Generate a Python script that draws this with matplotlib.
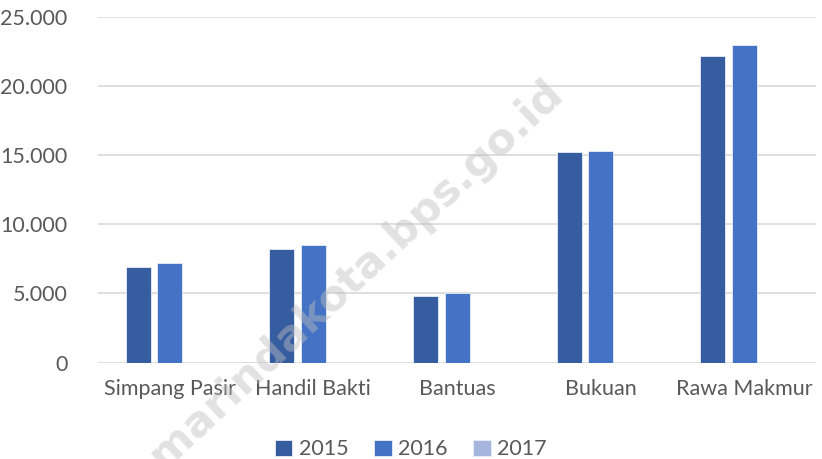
import matplotlib
matplotlib.use("Agg")
import matplotlib.pyplot as plt
import numpy as np

categories = ["Simpang Pasir", "Handil Bakti", "Bantuas", "Bukuan", "Rawa Makmur"]
years = ["2015", "2016", "2017"]
v2015 = [6950, 8230, 4850, 15270, 22150]
v2016 = [7170, 8490, 5070, 15320, 22990]
v2017 = [0, 0, 0, 0, 0]
yticks = [0, 5000, 10000, 15000, 20000, 25000]
ytick_labels = ["0", "5.000", "10.000", "15.000", "20.000", "25.000"]
colors = ["#375DA1", "#4472C4", "#A5B5DD"]

plt.rcParams['font.family'] = ['Lato', 'DejaVu Sans']
fig = plt.figure(figsize=(8.22, 4.59), dpi=100)
ax = fig.add_axes([0.119, 0.210, 0.874, 0.753])

x = np.arange(len(categories))
w = 0.174
step = 0.22
for i, (vals, c, lab) in enumerate(zip([v2015, v2016, v2017], colors, years)):
    ax.bar(x + (i - 1) * step, vals, width=w, color=c, label=lab,
           edgecolor="#E8EEF8", linewidth=0.6, zorder=3)

ax.set_xlim(-0.5, len(categories) - 0.5)
ax.set_ylim(0, 25000)
ax.set_yticks(yticks)
ax.set_yticklabels(ytick_labels)
ax.set_xticks(x)
ax.set_xticklabels(categories)
ax.yaxis.grid(True, color="#D9D9D9", linewidth=1.2, zorder=0)
ax.set_axisbelow(True)
for s in ax.spines.values():
    s.set_visible(False)
ax.tick_params(axis="both", length=0, labelsize=15.5, colors="#595959")
ax.tick_params(axis="y", pad=22)
ax.tick_params(axis="x", pad=12)

leg = fig.legend(loc="lower center", bbox_to_anchor=(0.5, -0.043), ncol=3,
                 frameon=False, fontsize=15.5, handlelength=0.8, handleheight=0.8,
                 handletextpad=0.3, columnspacing=1.2)
for t in leg.get_texts():
    t.set_color("#595959")

fig.text(337 / 822, 1 - 293 / 459, "samarindakota.bps.go.id", rotation=43,
         ha="center", va="center", fontsize=31, fontweight="bold",
         color="#BFBFBF", alpha=0.45, family="DejaVu Sans", zorder=10)

fig.savefig("out.png", dpi=100)
